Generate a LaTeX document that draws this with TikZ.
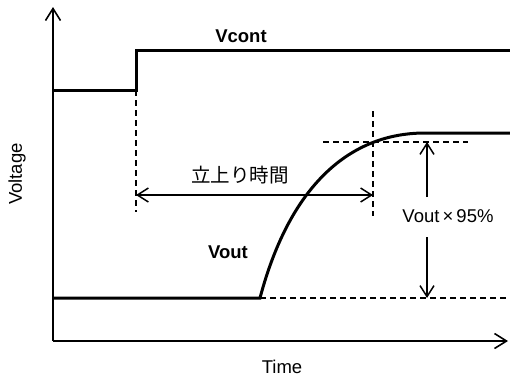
\documentclass[tikz,border=0pt]{standalone}
\usepackage{fontspec}
\setmainfont{Liberation Sans}
\newfontfamily\jpfont{Noto Sans CJK JP}
\usetikzlibrary{arrows.meta}
\begin{document}
\begin{tikzpicture}[x=1bp,y=-1bp,
  axisline/.style={line width=1.6bp},
  sigline/.style={line width=3bp},
  guide/.style={line width=1.5bp,dash pattern=on 6bp off 4bp},
  dimarrow/.style={line width=1.5bp,-{Straight Barb[length=11bp,width=14bp,line width=1.5bp]}},
  lbl/.style={inner sep=0pt,font=\fontsize{18.5bp}{21bp}\selectfont},
  blbl/.style={inner sep=0pt,font=\fontsize{18.5bp}{21bp}\selectfont\bfseries}]
\useasboundingbox (0,0) rectangle (510,380);
% coordinates
\coordinate (origin) at (53,341);
\coordinate (ytop) at (53,7);
\coordinate (xend) at (508,341);
\coordinate (c0) at (53,90);
\coordinate (c1) at (136,90);
\coordinate (c2) at (136,50);
\coordinate (c3) at (510,50);
\coordinate (o0) at (53,298);
\coordinate (o1) at (260,298);
\coordinate (o2) at (425,133);
\coordinate (o3) at (510,133);
\coordinate (dl) at (510,298);
\coordinate (d1b) at (136,212);
\coordinate (d2t) at (373,111);
\coordinate (d2b) at (373,216);
\coordinate (h1) at (323,142);
\coordinate (h2) at (468,142);
\coordinate (ra) at (136,195);
\coordinate (rb) at (373,195);
\coordinate (vt) at (427,142);
\coordinate (vb) at (427,298);
% axes
\draw[axisline,-{Straight Barb[length=12bp,width=15bp,line width=1.6bp]}] (origin) -- (ytop);
\draw[axisline,-{Straight Barb[length=12bp,width=15bp,line width=1.6bp]}] (origin) -- (xend);
% guides
\draw[guide] (c1) -- (d1b);
\draw[guide] (d2t) -- (d2b);
\draw[guide] (h1) -- (h2);
\draw[guide] (o1) -- (dl);
% signals
\draw[sigline,line join=miter] (c0) -- (c1) -- (c2) -- (c3);
\draw[sigline] (o0) -- (o1) .. controls (290,185) and (350,133) .. (o2) -- (o3);
% rise time arrow
\draw[line width=1.5bp,{Straight Barb[length=11bp,width=14bp,line width=1.5bp]}-{Straight Barb[length=11bp,width=14bp,line width=1.5bp]}] (ra) -- (rb);
% labels
\node[blbl] (vcont) at (241,36) {Vcont};
\node[blbl] (vout) at (228,252) {Vout};
\node[lbl,font=\fontsize{19.5bp}{21bp}\selectfont\jpfont] (rise) at (240,175) {立上り時間};
\node[lbl] (pct) at (448,216) {Vout\,×\,95\%};
\node[lbl,rotate=90] (volt) at (17,174) {Voltage};
\node[lbl] (time) at (282,367) {Time};
% 95% arrows
\draw[dimarrow] (427,197) -- (vt);
\draw[dimarrow] (427,237) -- (vb);
\end{tikzpicture}
\end{document}
